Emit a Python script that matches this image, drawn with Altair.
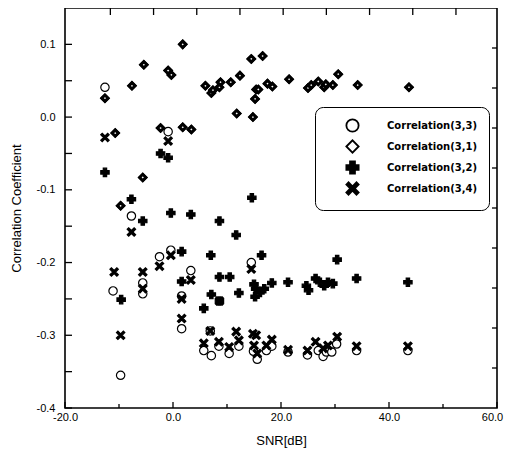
import altair as alt
import pandas as pd

series_names = ["Correlation(3,3)", "Correlation(3,1)", "Correlation(3,2)", "Correlation(3,4)"]

# Correlation(3,3) - open circles
snr_33 = [-12.6, -11.1, -9.7, -7.7, -5.6, -5.6, -2.5, -0.9, -0.4, 1.6, 1.6, 3.3, 5.7, 6.9, 7.1,
          8.5, 10.4, 12.2, 14.5, 14.9, 15.6, 17.3, 18.3, 21.3, 24.9, 26.9, 27.8, 28.4, 29.4,
          30.3, 34.0, 43.5]
corr_33 = [0.041, -0.239, -0.355, -0.136, -0.228, -0.243, -0.192, -0.020, -0.183, -0.246, -0.291,
           -0.211, -0.321, -0.294, -0.328, -0.315, -0.325, -0.315, -0.200, -0.322, -0.333, -0.321,
           -0.315, -0.323, -0.327, -0.321, -0.329, -0.323, -0.323, -0.312, -0.321, -0.321]

# Correlation(3,1) - diamonds
snr_31 = [-12.6, -10.7, -9.7, -7.6, -5.4, -5.6, -2.3, -0.9, -0.3, 1.8, 1.8, 3.4, 6.0, 7.1, 7.4,
          8.6, 8.8, 10.7, 11.8, 12.4, 14.5, 14.8, 15.2, 15.4, 15.8, 16.6, 17.5, 18.4, 21.5, 25.0,
          25.6, 26.9, 28.0, 28.3, 29.6, 30.6, 34.2, 43.7]
corr_31 = [0.026, -0.022, -0.122, 0.043, 0.072, -0.083, -0.015, 0.064, 0.058, 0.100, -0.014,
           -0.017, 0.043, 0.033, 0.037, 0.041, 0.048, 0.048, 0.005, 0.057, 0.080, 0.000, 0.025,
           0.038, 0.038, 0.084, 0.046, 0.042, 0.052, 0.040, 0.044, 0.049, 0.041, 0.045, 0.044,
           0.059, 0.044, 0.041]

# Correlation(3,2) - plus
snr_32 = [-12.6, -9.6, -7.7, -5.6, -2.3, -0.9, -0.4, 1.6, 1.6, 3.3, 5.7, 7.0, 7.1, 8.6, 8.6, 8.6,
          10.5, 11.7, 12.2, 14.6, 15.0, 15.3, 15.2, 16.1, 16.4, 16.9, 18.3, 21.3, 24.7, 25.1,
          26.4, 27.2, 28.0, 28.7, 29.6, 30.4, 34.0, 43.5]
corr_32 = [-0.076, -0.251, -0.113, -0.143, -0.050, -0.056, -0.132, -0.185, -0.226, -0.134, -0.263,
           -0.190, -0.244, -0.143, -0.220, -0.253, -0.220, -0.162, -0.242, -0.111, -0.230, -0.236,
           -0.247, -0.241, -0.190, -0.236, -0.228, -0.227, -0.232, -0.238, -0.222, -0.227, -0.232,
           -0.227, -0.229, -0.196, -0.222, -0.227]

# Correlation(3,4) - x
snr_34 = [-12.6, -10.9, -9.7, -7.7, -5.6, -5.6, -2.5, -0.9, -0.4, 1.6, 1.6, 3.3, 5.7, 6.9, 8.5,
          8.6, 10.4, 11.7, 12.2, 14.5, 14.8, 15.4, 15.0, 15.6, 17.3, 18.3, 21.3, 24.9, 26.4,
          27.8, 28.7, 30.4, 34.0, 43.5]
corr_34 = [-0.028, -0.213, -0.300, -0.158, -0.213, -0.236, -0.205, -0.033, -0.190, -0.250, -0.277,
           -0.224, -0.311, -0.294, -0.309, -0.253, -0.316, -0.295, -0.307, -0.209, -0.298, -0.300,
           -0.314, -0.325, -0.314, -0.306, -0.320, -0.321, -0.309, -0.318, -0.314, -0.302,
           -0.315, -0.315]

x_label_values = [-20, 0, 20, 40, 60]
x_minor_ticks = [-10, 10, 30, 50]
y_label_values = [-0.4, -0.3, -0.2, -0.1, 0.0, 0.1]
y_minor_ticks = [-0.35, -0.25, -0.15, -0.05, 0.05]
top_ticks = [-11.6, -3.6, 4.4, 12.4, 20.4, 28.4, 36.4, 44.4, 52.4]
right_ticks = [-0.345, -0.29, -0.235, -0.18, -0.125, -0.07, -0.015, 0.04, 0.095]

rows = []
for rank, (name, xs, ys) in enumerate([
    (series_names[0], snr_33, corr_33),
    (series_names[1], snr_31, corr_31),
    (series_names[2], snr_32, corr_32),
    (series_names[3], snr_34, corr_34),
]):
    for x, y in zip(xs, ys):
        rows.append({"series": name, "snr": x, "corr": y, "rank": rank})
df = pd.DataFrame(rows)

W, H = 432, 400
FONT = "Liberation Sans"
xscale = alt.Scale(domain=[-20, 60], nice=False, zero=False)
yscale = alt.Scale(domain=[-0.4, 0.15], nice=False, zero=False)

X_PATH = ("M-1,-0.65L-0.65,-1L0,-0.35L0.65,-1L1,-0.65L0.35,0L1,0.65L0.65,1L0,0.35"
          "L-0.65,1L-1,0.65L-0.35,0Z")
shape_scale = alt.Scale(domain=series_names, range=["circle", "diamond", "cross", X_PATH])
fill_scale = alt.Scale(domain=series_names, range=["white", "white", "black", "black"])
stroke_scale = alt.Scale(domain=series_names, range=["black", "black", "black", "black"])

legend = alt.Legend(
    orient="none", legendX=250, legendY=99, title=None,
    strokeColor="black", cornerRadius=8, fillColor="white",
    padding=11, symbolOffset=19, labelOffset=27, rowPadding=0,
    symbolSize=150, symbolStrokeWidth=1.8,
    labelFont="DejaVu Sans", labelFontSize=10, labelFontWeight="bold", labelColor="black",
)

label_expr = "(datum.value < 0 ? '-' : '') + format(abs(datum.value), '.1f')"
x_axis = alt.Axis(values=x_label_values, labelExpr=label_expr, ticks=False, domain=False, grid=False,
                  labelFont=FONT, labelFontSize=11, labelColor="black", labelPadding=3,
                  labelOffset={"condition": {"test": "datum.value === 60", "value": -5}, "value": 0},
                  titleFont=FONT, titleFontSize=13, titleFontWeight="normal", titleColor="black",
                  titlePadding=12, labelFlush=False, title="SNR[dB]")
y_axis = alt.Axis(values=y_label_values, labelExpr=label_expr, ticks=False, domain=False, grid=False,
                  labelFont=FONT, labelFontSize=11, labelColor="black", labelPadding=10,
                  titleFont=FONT, titleFontSize=13, titleFontWeight="normal", titleColor="black",
                  titlePadding=13, labelFlush=False, title="Correlation Coefficient")

points = alt.Chart(df).mark_point(filled=True, strokeWidth=1.2, size=70, opacity=1).encode(
    x=alt.X("snr:Q", scale=xscale, axis=x_axis),
    y=alt.Y("corr:Q", scale=yscale, axis=y_axis),
    shape=alt.Shape("series:N", scale=shape_scale, legend=legend),
    fill=alt.Fill("series:N", scale=fill_scale, legend=legend),
    stroke=alt.Stroke("series:N", scale=stroke_scale, legend=legend),
    order=alt.Order("rank:Q"),
)

diamonds = alt.Chart(df).transform_filter(
    alt.datum.series == series_names[1]
).mark_point(shape="diamond", filled=True, fill="white", stroke="black", strokeWidth=3,
             size=40, opacity=1).encode(
    x=alt.X("snr:Q", scale=xscale, axis=x_axis),
    y=alt.Y("corr:Q", scale=yscale, axis=y_axis),
)


def xticks(values, y0, y1):
    return alt.Chart(pd.DataFrame({"snr": values})).mark_rule(color="black", strokeWidth=1.3).encode(
        x=alt.X("snr:Q", scale=xscale, axis=x_axis), y=alt.value(y0), y2=alt.value(y1))


def yticks(values, x0, x1):
    return alt.Chart(pd.DataFrame({"corr": values})).mark_rule(color="black", strokeWidth=1.3).encode(
        y=alt.Y("corr:Q", scale=yscale, axis=y_axis), x=alt.value(x0), x2=alt.value(x1))


ticks = [
    xticks(x_label_values, H, H - 6),
    xticks(x_minor_ticks, H, H - 4),
    xticks(top_ticks, 0, 7),
    yticks(y_label_values, 0, 7),
    yticks(y_minor_ticks, 0, 7),
    yticks(right_ticks, W, W - 5),
]

chart = alt.layer(points, diamonds, *ticks).properties(
    width=W, height=H,
    padding={"left": 57, "top": 0, "right": 7, "bottom": 42},
    autosize=alt.AutoSizeParams(type="none"),
    background="white",
).configure_view(stroke="black", strokeWidth=1.6)

chart.save("out.html", embed_options={"renderer": "svg", "actions": False})
